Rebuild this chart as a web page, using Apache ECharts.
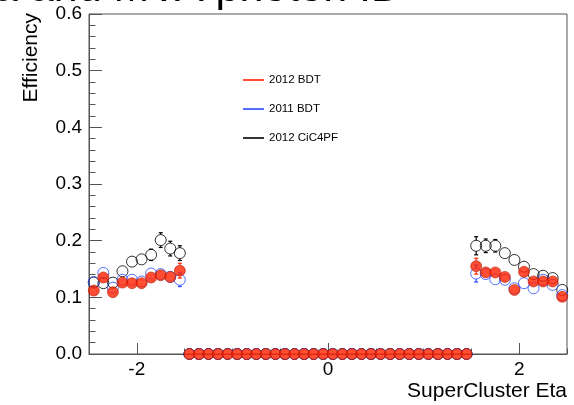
<!DOCTYPE html>
<html>
<head>
<meta charset="utf-8">
<script src="https://cdn.jsdelivr.net/npm/echarts@6/dist/echarts.min.js"></script>
<style>
  html, body { margin: 0; padding: 0; background: #fff; }
  #chart { width: 574px; height: 405px; }
</style>
</head>
<body>
<div id="chart"></div>
<script>
// Bin centres in SuperCluster eta (bin width 0.1)
const etaBins = [
  -2.45, -2.35, -2.25, -2.15, -2.05, -1.95, -1.85, -1.75, -1.65, -1.55,
  -1.45, -1.35, -1.25, -1.15, -1.05, -0.95, -0.85, -0.75, -0.65, -0.55,
  -0.45, -0.35, -0.25, -0.15, -0.05, 0.05, 0.15, 0.25, 0.35, 0.45,
  0.55, 0.65, 0.75, 0.85, 0.95, 1.05, 1.15, 1.25, 1.35, 1.45,
  1.55, 1.65, 1.75, 1.85, 1.95, 2.05, 2.15, 2.25, 2.35, 2.45
];

// Efficiency per bin
const eff2012BDT = [
  0.112, 0.135, 0.109, 0.126, 0.125, 0.125, 0.135, 0.139, 0.136, 0.147,
  0, 0, 0, 0, 0, 0, 0, 0, 0, 0,
  0, 0, 0, 0, 0, 0, 0, 0, 0, 0,
  0, 0, 0, 0, 0, 0, 0, 0, 0, 0,
  0.155, 0.144, 0.144, 0.136, 0.113, 0.145, 0.128, 0.128, 0.128, 0.101
];
const eff2011BDT = [
  0.127, 0.143, 0.117, 0.131, 0.131, 0.128, 0.142, 0.141, 0.136, 0.131,
  0, 0, 0, 0, 0, 0, 0, 0, 0, 0,
  0, 0, 0, 0, 0, 0, 0, 0, 0, 0,
  0, 0, 0, 0, 0, 0, 0, 0, 0, 0,
  0.142, 0.141, 0.132, 0.131, 0.116, 0.125, 0.116, 0.131, 0.122, 0.104
];
const eff2012CiC = [
  0.126, 0.125, 0.126, 0.146, 0.163, 0.167, 0.175, 0.201, 0.186, 0.178,
  0, 0, 0, 0, 0, 0, 0, 0, 0, 0,
  0, 0, 0, 0, 0, 0, 0, 0, 0, 0,
  0, 0, 0, 0, 0, 0, 0, 0, 0, 0,
  0.191, 0.191, 0.191, 0.178, 0.166, 0.154, 0.141, 0.138, 0.134, 0.113
];

// Statistical uncertainties per bin
const err2012BDT = [
  0.007, 0.008, 0.007, 0.007, 0.007, 0.007, 0.008, 0.008, 0.009, 0.013,
  0, 0, 0, 0, 0, 0, 0, 0, 0, 0,
  0, 0, 0, 0, 0, 0, 0, 0, 0, 0,
  0, 0, 0, 0, 0, 0, 0, 0, 0, 0,
  0.014, 0.009, 0.008, 0.008, 0.007, 0.008, 0.007, 0.007, 0.007, 0.007
];
const err2011BDT = [
  0.007, 0.009, 0.007, 0.007, 0.007, 0.007, 0.008, 0.008, 0.009, 0.012,
  0, 0, 0, 0, 0, 0, 0, 0, 0, 0,
  0, 0, 0, 0, 0, 0, 0, 0, 0, 0,
  0, 0, 0, 0, 0, 0, 0, 0, 0, 0,
  0.015, 0.009, 0.008, 0.008, 0.007, 0.007, 0.007, 0.007, 0.007, 0.007
];
const err2012CiC = [
  0.008, 0.008, 0.008, 0.009, 0.009, 0.009, 0.010, 0.013, 0.013, 0.013,
  0, 0, 0, 0, 0, 0, 0, 0, 0, 0,
  0, 0, 0, 0, 0, 0, 0, 0, 0, 0,
  0, 0, 0, 0, 0, 0, 0, 0, 0, 0,
  0.016, 0.012, 0.011, 0.009, 0.009, 0.009, 0.009, 0.009, 0.009, 0.009
];

const xLabelTicks = [-2, 0, 2];
const xMinorTicks = [-2.5, -1.5, -1, -0.5, 0.5, 1, 1.5, 2.5];

const FONT = '"Liberation Sans", Arial, Helvetica, sans-serif';
const RED = '#ff2200';
const BLUE = '#2a4bff';
const BLACK = '#000000';
const MARKER = 11;

function points(values) {
  return etaBins.map((x, i) => [x, values[i]]);
}
function errPoints(values, errs) {
  return etaBins.map((x, i) => [x, values[i], errs[i]]);
}

// Error bars are drawn only outside the marker, with small end caps.
function errorBarSeries(name, values, errs, color) {
  return {
    name: name,
    type: 'custom',
    silent: true,
    data: errPoints(values, errs),
    renderItem: function (params, api) {
      const x = api.value(0), y = api.value(1), e = api.value(2);
      if (!(e > 0)) return null;
      const c = api.coord([x, y]);
      const lo = api.coord([x, y - e]);
      const hi = api.coord([x, y + e]);
      const r = MARKER / 2;
      const cap = 2;
      const kids = [];
      if (lo[1] - c[1] > r) {
        kids.push({ type: 'line', shape: { x1: c[0], y1: c[1] + r, x2: c[0], y2: lo[1] }, style: { stroke: color, lineWidth: 1.2 } });
        kids.push({ type: 'line', shape: { x1: c[0] - cap, y1: lo[1], x2: c[0] + cap, y2: lo[1] }, style: { stroke: color, lineWidth: 1.2 } });
      }
      if (c[1] - hi[1] > r) {
        kids.push({ type: 'line', shape: { x1: c[0], y1: c[1] - r, x2: c[0], y2: hi[1] }, style: { stroke: color, lineWidth: 1.2 } });
        kids.push({ type: 'line', shape: { x1: c[0] - cap, y1: hi[1], x2: c[0] + cap, y2: hi[1] }, style: { stroke: color, lineWidth: 1.2 } });
      }
      return { type: 'group', children: kids };
    }
  };
}

const chart = echarts.init(document.getElementById('chart'), null, { renderer: 'canvas' });

chart.setOption({
  animation: false,
  backgroundColor: '#ffffff',
  grid: {
    left: 89, right: 7, top: 14, bottom: 51,
    show: true, borderColor: '#555', borderWidth: 1, backgroundColor: 'transparent'
  },
  graphic: [
    {
      type: 'text', x: 402, y: -11, silent: true,
      style: { text: 'a and MVA photon ID', font: '43px ' + FONT, fill: '#000', align: 'right', verticalAlign: 'middle' }
    },
    {
      type: 'text', x: 31, y: 13, rotation: Math.PI / 2, silent: true,
      style: { text: 'Efficiency', font: '21px ' + FONT, fill: '#000', align: 'right', verticalAlign: 'middle' }
    }
  ],
  legend: {
    orient: 'vertical', left: 243, top: 74, padding: 0,
    itemWidth: 21, itemHeight: 2, itemGap: 17,
    textStyle: { fontSize: 11.5, fontFamily: FONT, color: '#000' },
    data: [
      { name: '2012 BDT', icon: 'rect', itemStyle: { color: RED, borderWidth: 0 } },
      { name: '2011 BDT', icon: 'rect', itemStyle: { color: BLUE, borderWidth: 0 } },
      { name: '2012 CiC4PF', icon: 'rect', itemStyle: { color: BLACK, borderWidth: 0 } }
    ]
  },
  xAxis: [
    {
      type: 'value', min: -2.5, max: 2.5,
      name: 'SuperCluster Eta', nameLocation: 'end', nameGap: 0,
      nameTextStyle: { fontSize: 21, fontFamily: FONT, color: '#000', align: 'right', verticalAlign: 'top', padding: [27, 0, 0, 0] },
      axisLine: { show: true, onZero: false, lineStyle: { color: '#555', width: 1 } },
      axisTick: { show: true, inside: true, length: 11, customValues: xLabelTicks, lineStyle: { color: '#555' } },
      axisLabel: { customValues: xLabelTicks, fontSize: 19, fontFamily: FONT, color: '#000', margin: 6 },
      splitLine: { show: false }
    },
    {
      type: 'value', min: -2.5, max: 2.5, position: 'bottom',
      axisLine: { show: false },
      axisTick: { show: true, inside: true, length: 5.5, customValues: xMinorTicks, lineStyle: { color: '#555' } },
      axisLabel: { show: false },
      splitLine: { show: false }
    }
  ],
  yAxis: {
    type: 'value', min: 0, max: 0.6, interval: 0.1,
    axisLine: { show: true, onZero: false, lineStyle: { color: '#555', width: 1 } },
    axisTick: { show: true, inside: true, length: 13, lineStyle: { color: '#555' } },
    minorTick: { show: true, splitNumber: 5, length: 6.5, lineStyle: { color: '#555' } },
    axisLabel: { formatter: v => v.toFixed(1), fontSize: 19, fontFamily: FONT, color: '#000', margin: 7 },
    splitLine: { show: false },
    minorSplitLine: { show: false }
  },
  series: [
    errorBarSeries('2012 CiC4PF err', eff2012CiC, err2012CiC, BLACK),
    {
      name: '2012 CiC4PF', type: 'scatter', symbol: 'circle', symbolSize: MARKER,
      itemStyle: { color: 'rgba(0,0,0,0)', borderColor: BLACK, borderWidth: 1 },
      data: points(eff2012CiC)
    },
    errorBarSeries('2011 BDT err', eff2011BDT, err2011BDT, BLUE),
    {
      name: '2011 BDT', type: 'scatter', symbol: 'circle', symbolSize: MARKER,
      itemStyle: { color: 'rgba(0,0,0,0)', borderColor: BLUE, borderWidth: 1 },
      data: points(eff2011BDT)
    },
    errorBarSeries('2012 BDT err', eff2012BDT, err2012BDT, RED),
    {
      name: '2012 BDT', type: 'scatter', symbol: 'circle', symbolSize: MARKER,
      itemStyle: { color: RED, borderColor: '#a81a00', borderWidth: 0.7 },
      data: points(eff2012BDT)
    }
  ]
});
</script>
</body>
</html>
